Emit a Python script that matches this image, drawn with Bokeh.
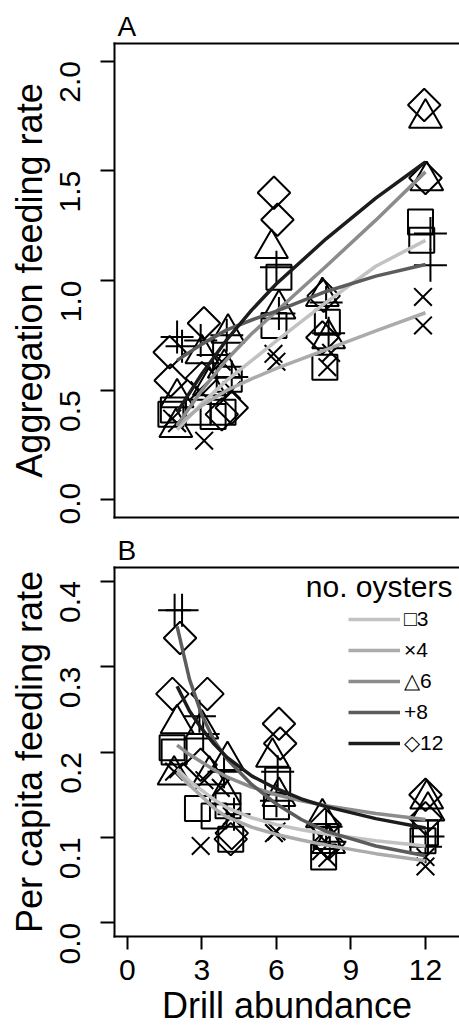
import math
from bokeh.plotting import figure
from bokeh.layouts import column
from bokeh.models import (Range1d, FixedTicker, LinearAxis, Legend, LegendItem,
                          Label, PrintfTickFormatter)
from bokeh.embed import file_html
from bokeh.resources import INLINE

FONT = "Liberation Sans"

# ---------------- data ----------------
groups = ["3", "4", "6", "8", "12"]
legend_labels = ["\u25a13", "\u00d74", "\u25b36", "+8", "\u25c712"]
curve_colors = ["#c2c2c2", "#ababab", "#8c8c8c", "#5c5c5c", "#1c1c1c"]

x_ticks = [0, 3, 6, 9, 12]
yA_ticks = [0.0, 0.5, 1.0, 1.5, 2.0]
yB_ticks = [0.0, 0.1, 0.2, 0.3, 0.4]

# Panel A: aggregate feeding rate (jittered drill abundance, rate)
xa3 = [1.75, 1.85, 2.85, 3.45, 3.85, 4.10, 6.10, 5.90, 8.05, 7.95, 11.80, 11.85]
ya3 = [0.39, 0.41, 0.40, 0.38, 0.40, 0.55, 1.015, 0.795, 0.81, 0.605, 1.267, 1.183]
xa4 = [1.80, 2.00, 3.09, 2.90, 3.80, 4.20, 5.88, 6.00, 8.05, 8.20, 11.90, 11.90]
ya4 = [0.37, 0.35, 0.27, 0.50, 0.63, 0.50, 0.666, 0.63, 0.605, 0.67, 0.925, 0.795]
xa6 = [1.95, 2.00, 3.00, 3.30, 4.05, 3.90, 5.80, 6.10, 7.85, 8.10, 12.00, 12.05]
ya6 = [0.33, 0.466, 0.666, 0.52, 0.76, 0.60, 1.146, 0.87, 0.927, 0.735, 1.74, 1.455]
xa8 = [2.00, 2.20, 2.95, 3.45, 4.00, 4.20, 6.00, 6.10, 8.00, 8.10, 12.20, 12.20]
ya8 = [0.742, 0.70, 0.727, 0.66, 0.75, 0.56, 1.06, 0.85, 0.90, 0.76, 1.214, 1.069]
xa12 = [1.70, 1.74, 3.08, 3.00, 3.80, 4.20, 5.90, 6.04, 7.90, 7.85, 11.95, 12.00]
ya12 = [0.673, 0.544, 0.805, 0.555, 0.39, 0.42, 1.40, 1.277, 0.93, 0.74, 1.80, 1.467]

# Panel B: per capita feeding rate
xb3 = [1.88, 1.80, 2.82, 3.49, 4.16, 4.05, 6.05, 6.00, 8.00, 7.90, 12.00, 11.90]
yb3 = [0.200, 0.205, 0.134, 0.125, 0.098, 0.137, 0.167, 0.136, 0.101, 0.077, 0.1055, 0.096]
xb4 = [1.88, 2.05, 2.95, 3.10, 3.76, 4.20, 6.00, 5.90, 8.05, 7.80, 12.00, 12.00]
yb4 = [0.177, 0.180, 0.090, 0.167, 0.158, 0.125, 0.107, 0.105, 0.076, 0.084, 0.077, 0.066]
xb6 = [1.88, 2.00, 3.00, 3.30, 4.03, 3.90, 5.84, 6.10, 7.85, 8.10, 12.05, 12.10]
yb6 = [0.173, 0.233, 0.227, 0.173, 0.190, 0.150, 0.194, 0.148, 0.123, 0.093, 0.145, 0.131]
xb8 = [1.90, 2.20, 2.90, 3.05, 3.89, 4.29, 6.05, 6.00, 8.00, 8.15, 12.10, 12.00]
yb8 = [0.366, 0.366, 0.242, 0.221, 0.177, 0.127, 0.177, 0.143, 0.1125, 0.095, 0.101, 0.089]
xb12 = [2.12, 1.81, 3.22, 2.95, 4.16, 4.20, 6.10, 6.15, 7.95, 8.10, 12.00, 12.00]
yb12 = [0.3335, 0.268, 0.268, 0.185, 0.098, 0.105, 0.233, 0.210, 0.115, 0.093, 0.150, 0.1225]

# fitted curves
curveA_x = [2, 3, 4, 5, 6, 8, 10, 12]
curveA3 = [0.32, 0.44, 0.545, 0.635, 0.725, 0.90, 1.065, 1.183]
curveA4 = [0.34, 0.43, 0.50, 0.552, 0.60, 0.685, 0.77, 0.853]
curveA6 = [0.34, 0.50, 0.64, 0.757, 0.86, 1.065, 1.275, 1.495]
curveA8 = [0.636, 0.71, 0.775, 0.82, 0.86, 0.95, 1.02, 1.073]
curveA12 = [0.40, 0.575, 0.73, 0.865, 0.985, 1.19, 1.375, 1.54]

curveB_x = [2, 2.5, 3, 3.5, 4, 5, 6, 7, 8, 10, 12]
curveB3 = [0.180, 0.166, 0.155, 0.144, 0.135, 0.123, 0.115, 0.109, 0.104, 0.096, 0.090]
curveB4 = [0.176, 0.161, 0.148, 0.134, 0.124, 0.112, 0.1035, 0.097, 0.091, 0.081, 0.0727]
curveB6 = [0.208, 0.197, 0.188, 0.179, 0.171, 0.159, 0.150, 0.143, 0.137, 0.128, 0.121]
curveB8 = [0.347, 0.285, 0.243, 0.213, 0.192, 0.162, 0.139, 0.121, 0.107, 0.090, 0.0785]
curveB12 = [0.277, 0.248, 0.227, 0.209, 0.194, 0.172, 0.157, 0.145, 0.136, 0.122, 0.111]

A_pts = [(xa3, ya3), (xa4, ya4), (xa6, ya6), (xa8, ya8), (xa12, ya12)]
B_pts = [(xb3, yb3), (xb4, yb4), (xb6, yb6), (xb8, yb8), (xb12, yb12)]
A_curves = [curveA3, curveA4, curveA6, curveA8, curveA12]
B_curves = [curveB3, curveB4, curveB6, curveB8, curveB12]

# marker styles (marker, size, angle)
marker_style = [("square", 25, 0.0), ("x", 25, 0.0), ("triangle", 33, 0.0),
                ("cross", 33, 0.0), ("square", 23, math.pi / 4)]

x_range = Range1d(-0.52, 13.37)


def blank_axis():
    return LinearAxis(ticker=FixedTicker(ticks=[]), major_tick_out=0, major_tick_in=0,
                      minor_tick_out=0, minor_tick_in=0, major_label_text_font_size="0px",
                      major_label_standoff=0, axis_line_width=2, axis_line_color="black",
                      axis_line_cap="square")


def left_axis(ticks, label):
    return LinearAxis(ticker=FixedTicker(ticks=ticks), formatter=PrintfTickFormatter(format="%.1f"),
                      axis_label=label, axis_label_text_font=FONT, axis_label_text_font_size="36px",
                      axis_label_text_font_style="normal", axis_label_text_color="black",
                      axis_label_standoff=-2,
                      major_label_text_font=FONT, major_label_text_font_size="30px",
                      major_label_text_color="black", major_label_standoff=30,
                      major_label_orientation=math.pi / 2,
                      major_tick_out=14, major_tick_in=0, minor_tick_out=0, minor_tick_in=0,
                      major_tick_line_width=2, major_tick_line_color="black",
                      axis_line_width=2, axis_line_color="black", axis_line_cap="square")


def make_fig(height, yr, top, bottom, title):
    p = figure(width=459, height=height, x_range=x_range, y_range=yr, title=title,
               output_backend="svg", toolbar_location=None,
               x_axis_location=None, y_axis_location=None,
               min_border_left=114, min_border_right=0,
               min_border_top=top, min_border_bottom=bottom)
    p.outline_line_color = None
    p.grid.visible = False
    p.background_fill_color = "white"
    p.border_fill_color = "white"
    p.title.text_font = FONT
    p.title.text_font_size = "28px"
    p.title.text_font_style = "normal"
    p.title.text_color = "black"
    p.title.align = "left"
    p.title.offset = 3
    p.title.standoff = 4
    return p


# ---------------- panel A ----------------
pA = make_fig(524, Range1d(-0.08, 2.08), 43, 7, "A")
pA.add_layout(left_axis(yA_ticks, "Aggregation feeding rate"), "left")
pA.add_layout(blank_axis(), "below")
pA.add_layout(blank_axis(), "above")

for (xs, ys), (mk, sz, ang) in zip(A_pts, marker_style):
    pA.scatter(xs, ys, marker=mk, size=sz, angle=ang, fill_color=None,
               line_color="black", line_width=2)
for ys, col in zip(A_curves, curve_colors):
    pA.line(curveA_x, ys, line_color=col, line_width=3.5)

# ---------------- panel B ----------------
pB = make_fig(504, Range1d(-0.016, 0.416), 43, 89, "B")
pB.add_layout(left_axis(yB_ticks, "Per capita feeding rate"), "left")
pB.add_layout(blank_axis(), "above")
xb_axis = LinearAxis(ticker=FixedTicker(ticks=x_ticks), axis_label="Drill abundance",
                     axis_label_text_font=FONT, axis_label_text_font_size="36px",
                     axis_label_text_font_style="normal", axis_label_text_color="black",
                     axis_label_standoff=2,
                     major_label_text_font=FONT, major_label_text_font_size="30px",
                     major_label_text_color="black", major_label_standoff=10,
                     major_tick_out=13, major_tick_in=0, minor_tick_out=0, minor_tick_in=0,
                     major_tick_line_width=2, major_tick_line_color="black",
                     axis_line_width=2, axis_line_color="black", axis_line_cap="square")
pB.add_layout(xb_axis, "below")

for (xs, ys), (mk, sz, ang) in zip(B_pts, marker_style):
    pB.scatter(xs, ys, marker=mk, size=sz, angle=ang, fill_color=None,
               line_color="black", line_width=2)
line_renderers = []
for ys, col in zip(B_curves, curve_colors):
    r = pB.line(curveB_x, ys, line_color=col, line_width=3.5)
    line_renderers.append(r)

legend = Legend(items=[LegendItem(label=lab, renderers=[r]) for lab, r in zip(legend_labels, line_renderers)],
                location=(234, 181), orientation="vertical", glyph_width=52, glyph_height=24,
                label_height=24, label_standoff=4, spacing=7, padding=0, margin=0,
                border_line_color=None, background_fill_alpha=0,
                label_text_font=FONT, label_text_font_size="21px", label_text_color="black")
pB.add_layout(legend)
pB.add_layout(Label(x=13.09, y=0.3942, text="no. oysters", text_align="right",
                    text_baseline="alphabetic", text_font=FONT, text_font_size="30px",
                    text_color="black"))

layout = column(pA, pB, spacing=0)
open("out.html", "w").write(file_html(layout, INLINE))
